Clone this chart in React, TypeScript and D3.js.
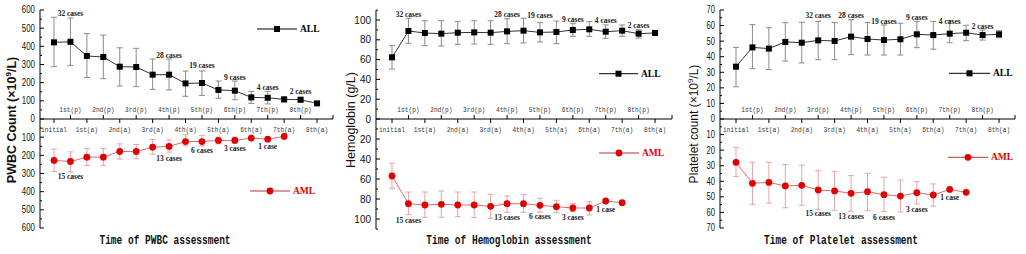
import React from "react";
import * as d3 from "d3";

const categories = [
  "initial", "1st(p)", "1st(a)", "2nd(p)", "2nd(a)", "3rd(p)", "3rd(a)", "4th(p)", "4th(a)",
  "5th(p)", "5th(a)", "6th(p)", "6th(a)", "7th(p)", "7th(a)", "8th(p)", "8th(a)",
];

// PWBC (×10^9/L)
const pwbcAllMean = [422, 425, 347, 341, 288, 286, 244, 244, 196, 198, 160, 156, 119, 117, 108, 106, 86];
const pwbcAllHi = [560, 556, 470, 462, 392, 389, 330, 330, 264, 264, 209, 209, 152, 152, 121, 119, null];
const pwbcAllLo = [288, 295, 229, 222, 182, 178, 163, 160, 125, 130, 114, 106, 86, 83, 94, 94, null];
const pwbcAmlMean = [228, 234, 210, 210, 179, 179, 155, 151, 124, 124, 118, 118, 105, 111, 96];
const pwbcAmlHi = [289, 292, 256, 257, 221, 219, 193, 182, 148, 148, 137, 133, null, null, null];
const pwbcAmlLo = [166, 181, 163, 163, 137, 140, 113, 115, 87, 90, 100, 100, null, null, null];
const pwbcAllNotes = [
  { i: 1, text: "32 cases", at: 578 }, { i: 7, text: "28 cases", at: 347 }, { i: 9, text: "19 cases", at: 292 },
  { i: 11, text: "9 cases", at: 226 }, { i: 13, text: "4 cases", at: 176 }, { i: 15, text: "2 cases", at: 149 },
];
const pwbcAmlNotes = [
  { i: 1, text: "15 cases", at: 319 }, { i: 7, text: "13 cases", at: 215 }, { i: 9, text: "6 cases", at: 176 },
  { i: 11, text: "3 cases", at: 165 }, { i: 13, text: "1 case", at: 149 },
];

// Hemoglobin (g/L)
const hbAllMean = [62.3, 88.9, 86.9, 86.2, 87.2, 87.5, 87.2, 88.5, 89.2, 87.5, 87.9, 89.9, 90.6, 88.2, 89.2, 86.2, 86.9];
const hbAllHi = [74, 101.7, 99.3, 99.3, 98.6, 99.3, 99.3, 101.3, 101.7, 97.3, 99, 96.7, 98.3, 95, 95, 90.2, 89.5];
const hbAllLo = [50.5, 76.5, 74, 73.7, 75.4, 75.8, 75.4, 76.1, 76.8, 77.8, 76.1, 83.5, 83.5, 81.5, 83.5, 81.8, 85];
const hbAmlMean = [57, 84.7, 86, 85.3, 86, 86, 87.3, 84.7, 84.7, 86.3, 87.7, 89, 89, 82, 83.7];
const hbAmlHi = [69.3, 95.7, 98.3, 98.3, 97.7, 98.7, 99.3, 93.3, 93.3, 93.3, 93.7, 92.7, 96, null, null];
const hbAmlLo = [44.3, 73, 73, 72, 73, 73, 75.3, 77, 75.7, 79.3, 81.3, 84.7, 82.7, null, null];
const hbAllNotes = [
  { i: 1, text: "32 cases", at: 105.4 }, { i: 7, text: "28 cases", at: 105.4 }, { i: 9, text: "19 cases", at: 104.3 },
  { i: 11, text: "9 cases", at: 101 }, { i: 13, text: "4 cases", at: 99.3 }, { i: 15, text: "2 cases", at: 94.6 },
];
const hbAmlNotes = [
  { i: 1, text: "15 cases", at: 101 }, { i: 7, text: "13 cases", at: 98 }, { i: 9, text: "6 cases", at: 97.7 },
  { i: 11, text: "3 cases", at: 98 }, { i: 13, text: "1 case", at: 90 },
];

// Platelet (×10^9/L)
const pltAllMean = [33.6, 46, 45.2, 49.5, 49, 50.5, 50.1, 52.9, 51.4, 50.7, 51.2, 54.4, 53.9, 54.8, 55.4, 53.9, 54.4];
const pltAllHi = [46, 60.6, 58.6, 61.9, 62.1, 62.7, 61.9, 63.8, 61.9, 60.4, 61.5, 62.7, 62.7, 63.2, 60.2, 57.2, 56.7];
const pltAllLo = [20.7, 32.3, 31.7, 37.2, 36, 38.1, 38.1, 41.3, 41.1, 41.1, 41.1, 45.8, 44.8, 49, 50.3, 50.7, 52.2];
const pltAmlMean = [27.8, 41.3, 40.7, 43, 42.6, 45.6, 46.2, 47.7, 46.7, 48.6, 49.5, 47.3, 48.8, 45.2, 47.1];
const pltAmlHi = [37, 54.8, 54, 57, 55.4, 58, 58.6, 59.3, 58.9, 59.5, 59.7, 54.6, 55.9, null, null];
const pltAmlLo = [18.4, 27.8, 27.8, 29.3, 29.7, 33.2, 33.6, 36.4, 34.9, 37.4, 39.2, 40.3, 41.7, null, null];
const pltAllNotes = [
  { i: 5, text: "32 cases", at: 66.3 }, { i: 7, text: "28 cases", at: 66.3 }, { i: 9, text: "19 cases", at: 62.3 },
  { i: 11, text: "9 cases", at: 65.3 }, { i: 13, text: "4 cases", at: 62.7 }, { i: 15, text: "2 cases", at: 59.3 },
];
const pltAmlNotes = [
  { i: 5, text: "15 cases", at: 60.8 }, { i: 7, text: "13 cases", at: 62.7 }, { i: 9, text: "6 cases", at: 63.4 },
  { i: 11, text: "3 cases", at: 57.8 }, { i: 13, text: "1 case", at: 50.7 },
];

const W = 1026;
const H = 254;
const ZERO_Y = 119;

const ALL_COLOR = "#000";
const ALL_LINE = "#333";
const ALL_ERR = "#8a8a8a";
const AML_COLOR = "#e00000";
const AML_LINE = "#e06a6a";
const AML_ERR = "#e6a4a4";
const AML_LEG_LINE = "#b03838";

const panels = [
  {
    axisX: 40, x0: 54, step: 16.44, xEnd: 333, topY: 10, botY: 228, max: 600, major: 100, minor: 50, sx: 0.75,
    yTitle: ["PWBC Count (×10", "9", "/L)"], yTitleX: 12, yTitleY: 120, yTitleBold: true, yTitleSize: 12.5,
    xTitle: "Time of PWBC assessment", xTitleX: 165,
    legAll: { x1: 257, x2: 297, y: 29 }, legAml: { x1: 250, x2: 290, y: 191 },
    all: { mean: pwbcAllMean, hi: pwbcAllHi, lo: pwbcAllLo }, aml: { mean: pwbcAmlMean, hi: pwbcAmlHi, lo: pwbcAmlLo },
    allNotes: pwbcAllNotes, amlNotes: pwbcAmlNotes,
  },
  {
    axisX: 376, x0: 392, step: 16.44, xEnd: 672, topY: 10.1, botY: 229, max: 110, major: 20, minor: 10, sx: 0.95,
    yTitle: ["Hemoglobin (g/L)"], yTitleX: 351, yTitleY: 120, yTitleBold: false, yTitleSize: 12.5,
    xTitle: "Time of Hemoglobin assessment", xTitleX: 509,
    legAll: { x1: 599, x2: 638, y: 73.7 }, legAml: { x1: 599, x2: 639, y: 153 },
    all: { mean: hbAllMean, hi: hbAllHi, lo: hbAllLo }, aml: { mean: hbAmlMean, hi: hbAmlHi, lo: hbAmlLo },
    allNotes: hbAllNotes, amlNotes: hbAmlNotes,
  },
  {
    axisX: 720, x0: 736, step: 16.44, xEnd: 1015, topY: 10, botY: 228, max: 70, major: 10, minor: 5, sx: 0.72,
    yTitle: ["Platelet count (×10", "9", "/L)"], yTitleX: 694, yTitleY: 124, yTitleBold: false, yTitleSize: 12,
    xTitle: "Time of Platelet assessment", xTitleX: 841,
    legAll: { x1: 949, x2: 990, y: 73.3 }, legAml: { x1: 948, x2: 988, y: 157.3 },
    all: { mean: pltAllMean, hi: pltAllHi, lo: pltAllLo }, aml: { mean: pltAmlMean, hi: pltAmlHi, lo: pltAmlLo },
    allNotes: pltAllNotes, amlNotes: pltAmlNotes,
  },
];

type S = { mean: number[]; hi: (number | null)[]; lo: (number | null)[] };

function SeriesMarks({ s, x, y, kind }: { s: S; x: (i: number) => number; y: d3.ScaleLinear<number, number>; kind: "all" | "aml" }) {
  const pts = s.mean.map((v, i) => [x(i), y(v)] as [number, number]);
  const line = d3.line()(pts) || "";
  const errC = kind === "all" ? ALL_ERR : AML_ERR;
  const cap = 3;
  return (
    <g>
      {s.mean.map((_, i) => {
        const hi = s.hi[i];
        const lo = s.lo[i];
        if (hi == null || lo == null) return null;
        const cx = x(i);
        return (
          <g key={i} stroke={errC} strokeWidth={1} fill="none">
            <line x1={cx} x2={cx} y1={y(hi)} y2={y(lo)} />
            <line x1={cx - cap} x2={cx + cap} y1={y(hi)} y2={y(hi)} />
            <line x1={cx - cap} x2={cx + cap} y1={y(lo)} y2={y(lo)} />
          </g>
        );
      })}
      <path d={line} fill="none" stroke={kind === "all" ? ALL_LINE : AML_LINE} strokeWidth={1} />
      {pts.map(([px, py], i) =>
        kind === "all" ? (
          <rect key={i} x={px - 3} y={py - 3} width={6} height={6} fill={ALL_COLOR} />
        ) : (
          <circle key={i} cx={px} cy={py} r={3.4} fill={AML_COLOR} />
        )
      )}
    </g>
  );
}

function Panel({ p }: { p: (typeof panels)[number] }) {
  const xs = d3.scalePoint<string>().domain(categories).range([p.x0, p.x0 + 16 * p.step]);
  const x = (i: number) => xs(categories[i]) as number;
  const yTop = d3.scaleLinear().domain([0, p.max]).range([ZERO_Y, p.topY]);
  const yBot = d3.scaleLinear().domain([0, p.max]).range([ZERO_Y, p.botY]);
  const ticks = d3.range(0, p.max + 1e-6, p.minor);
  const isMajor = (t: number) => Math.abs(t / p.major - Math.round(t / p.major)) < 1e-6;

  const tickLabel = (t: number, yy: number, key: string) => (
    <text
      key={key}
      transform={`translate(${p.axisX - 5},${yy}) scale(${p.sx},1)`}
      textAnchor="end"
      dominantBaseline="central"
      fontFamily="'Liberation Sans', Arial, sans-serif"
      fontSize={10.5}
      fill="#111"
    >
      {t}
    </text>
  );

  return (
    <g>
      {/* y axis */}
      <line x1={p.axisX} x2={p.axisX} y1={p.topY} y2={p.botY} stroke="#000" strokeWidth={1} />
      {ticks.map((t) => {
        const len = isMajor(t) ? 4 : 2;
        return (
          <g key={"t" + t} stroke="#000" strokeWidth={1}>
            <line x1={p.axisX} x2={p.axisX + len} y1={yTop(t)} y2={yTop(t)} />
            {t > 0 && <line x1={p.axisX} x2={p.axisX + len} y1={yBot(t)} y2={yBot(t)} />}
          </g>
        );
      })}
      {ticks.filter(isMajor).map((t) => tickLabel(t, yTop(t), "lt" + t))}
      {ticks.filter((t) => isMajor(t) && t > 0).map((t) => tickLabel(t, yBot(t), "lb" + t))}

      {/* x axis */}
      <line x1={p.axisX} x2={p.xEnd} y1={ZERO_Y} y2={ZERO_Y} stroke="#000" strokeWidth={1} />
      {categories.map((c, i) => {
        const up = i % 2 === 1;
        return (
          <g key={c}>
            <line x1={x(i)} x2={x(i)} y1={ZERO_Y} y2={up ? ZERO_Y - 4 : ZERO_Y + 4} stroke="#000" strokeWidth={1} />
            <text
              x={x(i)}
              y={up ? ZERO_Y - 10 : ZERO_Y + 10}
              textAnchor="middle"
              dominantBaseline="central"
              fontFamily="'Liberation Mono', 'DejaVu Sans Mono', monospace"
              fontSize={8}
              textLength={c.length * 3.7}
              lengthAdjust="spacingAndGlyphs"
              fill="#333"
            >
              {c}
            </text>
          </g>
        );
      })}
      <line x1={p.xEnd} x2={p.xEnd} y1={ZERO_Y - 4} y2={ZERO_Y} stroke="#000" strokeWidth={1} />

      {/* series */}
      <SeriesMarks s={p.all} x={x} y={yTop} kind="all" />
      <SeriesMarks s={p.aml} x={x} y={yBot} kind="aml" />

      {/* case annotations */}
      {p.allNotes.map((n) => (
        <text key={"an" + n.i} x={x(n.i)} y={yTop(n.at)} textAnchor="middle" dominantBaseline="central"
          fontFamily="'Liberation Serif', 'Times New Roman', serif" fontSize={7.5} fontWeight="bold" fill="#222">
          {n.text}
        </text>
      ))}
      {p.amlNotes.map((n) => (
        <text key={"bn" + n.i} x={x(n.i)} y={yBot(n.at)} textAnchor="middle" dominantBaseline="central"
          fontFamily="'Liberation Serif', 'Times New Roman', serif" fontSize={7.5} fontWeight="bold" fill="#222">
          {n.text}
        </text>
      ))}

      {/* legends */}
      <line x1={p.legAll.x1} x2={p.legAll.x2} y1={p.legAll.y} y2={p.legAll.y} stroke="#000" strokeWidth={1} />
      <rect x={(p.legAll.x1 + p.legAll.x2) / 2 - 3} y={p.legAll.y - 3} width={6} height={6} fill={ALL_COLOR} />
      <text x={p.legAll.x2 + 3} y={p.legAll.y} dominantBaseline="central"
        fontFamily="'Liberation Serif', 'Times New Roman', serif" fontSize={9.5} fontWeight="bold" fill="#000">
        ALL
      </text>
      <line x1={p.legAml.x1} x2={p.legAml.x2} y1={p.legAml.y} y2={p.legAml.y} stroke={AML_LEG_LINE} strokeWidth={1} />
      <circle cx={(p.legAml.x1 + p.legAml.x2) / 2} cy={p.legAml.y} r={3.4} fill={AML_COLOR} />
      <text x={p.legAml.x2 + 3} y={p.legAml.y} dominantBaseline="central"
        fontFamily="'Liberation Serif', 'Times New Roman', serif" fontSize={9.5} fontWeight="bold" fill={AML_COLOR}>
        AML
      </text>

      {/* titles */}
      <text
        transform={`translate(${p.yTitleX},${p.yTitleY}) rotate(-90)`}
        textAnchor="middle"
        dominantBaseline="central"
        fontFamily="'Liberation Sans', Arial, sans-serif"
        fontSize={p.yTitleSize}
        fontWeight={p.yTitleBold ? "bold" : "normal"}
        fill="#111"
      >
        <tspan>{p.yTitle[0]}</tspan>
        {p.yTitle.length > 1 && (
          <>
            <tspan dy={-4} fontSize={p.yTitleSize * 0.65}>{p.yTitle[1]}</tspan>
            <tspan dy={4}>{p.yTitle[2]}</tspan>
          </>
        )}
      </text>
      <text
        x={p.xTitleX}
        y={241}
        textAnchor="middle"
        dominantBaseline="central"
        fontFamily="'Liberation Mono', 'Courier New', monospace"
        fontSize={12}
        fontWeight="bold"
        textLength={p.xTitle.length * 5.7}
        lengthAdjust="spacingAndGlyphs"
        fill="#111"
      >
        {p.xTitle}
      </text>
    </g>
  );
}

export default function App() {
  return (
    <svg width={W} height={H} viewBox={`0 0 ${W} ${H}`} style={{ display: "block", position: "absolute", left: 0, top: 0, background: "#fff" }}>
      <rect x={0} y={0} width={W} height={H} fill="#fff" />
      {panels.map((p, i) => (
        <Panel key={i} p={p} />
      ))}
    </svg>
  );
}
